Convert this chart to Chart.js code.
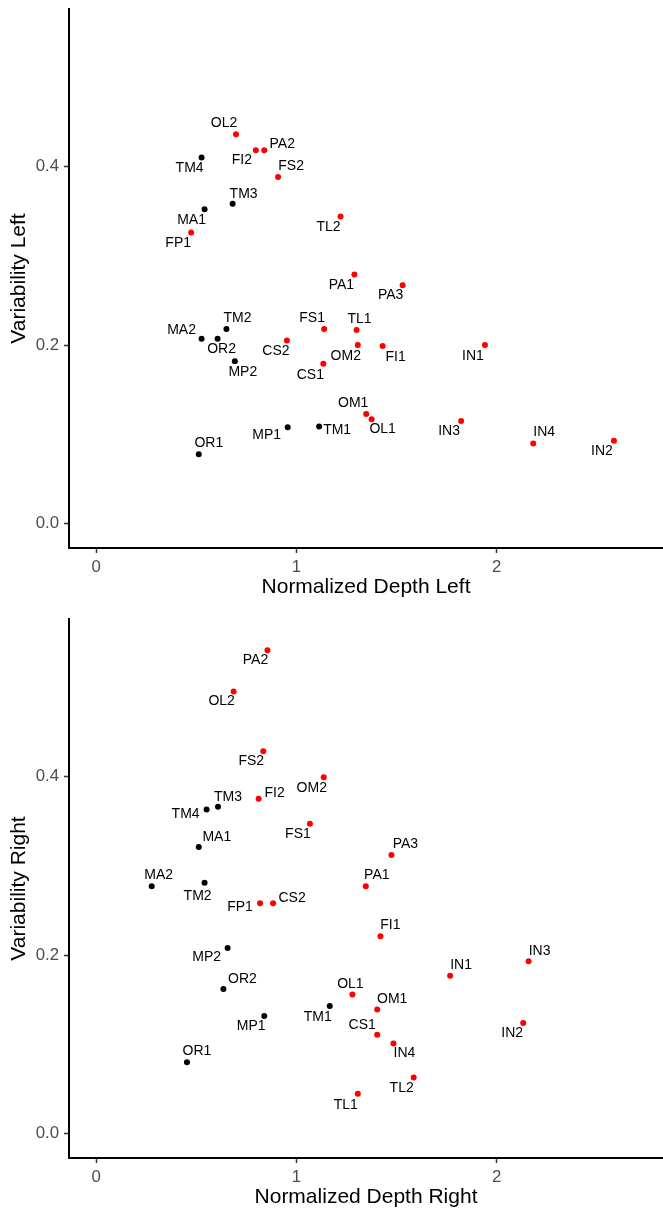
<!DOCTYPE html>
<html>
<head>
<meta charset="utf-8">
<script src="https://cdn.jsdelivr.net/npm/chart.js@4.4.1/dist/chart.umd.min.js"></script>
<style>
  body { margin: 0; background: #fff; }
  .plot { position: absolute; left: 0; width: 663px; }
</style>
</head>
<body>
<div class="plot" style="top:0;height:601px"><canvas id="leftChart" width="663" height="601"></canvas></div>
<div class="plot" style="top:610px;height:601px"><canvas id="rightChart" width="663" height="601"></canvas></div>
<script>
const sites = ["OL2", "PA2", "FI2", "TM4", "FS2", "TM3", "MA1", "TL2", "FP1", "PA1",
  "PA3", "TM2", "FS1", "TL1", "MA2", "OR2", "CS2", "OM2", "FI1", "IN1",
  "MP2", "CS1", "OM1", "OL1", "IN3", "MP1", "TM1", "OR1", "IN4", "IN2"];

const depthLeft = [0.698, 0.839, 0.797, 0.526, 0.908, 0.681, 0.541, 1.220, 0.474, 1.289,
  1.530, 0.650, 1.138, 1.300, 0.526, 0.606, 0.952, 1.306, 1.430, 1.941,
  0.692, 1.134, 1.348, 1.375, 1.822, 0.956, 1.113, 0.512, 2.182, 2.585];
const variabilityLeft = [0.436, 0.418, 0.418, 0.410, 0.388, 0.358, 0.352, 0.344, 0.326, 0.279,
  0.267, 0.218, 0.218, 0.217, 0.207, 0.207, 0.205, 0.200, 0.199, 0.200,
  0.182, 0.179, 0.123, 0.117, 0.115, 0.108, 0.109, 0.078, 0.090, 0.093];

const depthRight = [0.686, 0.855, 0.811, 0.551, 0.834, 0.608, 0.512, 1.585, 0.818, 1.346,
  1.474, 0.541, 1.067, 1.306, 0.277, 0.635, 0.883, 1.136, 1.419, 1.767,
  0.656, 1.403, 1.403, 1.279, 2.159, 0.839, 1.166, 0.453, 1.484, 2.132];
const variabilityRight = [0.495, 0.541, 0.375, 0.363, 0.428, 0.366, 0.321, 0.063, 0.258, 0.277,
  0.312, 0.281, 0.347, 0.045, 0.277, 0.162, 0.258, 0.399, 0.221, 0.177,
  0.208, 0.111, 0.139, 0.156, 0.193, 0.132, 0.143, 0.080, 0.101, 0.124];

const xTicks = [0, 1, 2];
const yTicks = [0, 0.2, 0.4];

// sites drawn in black, all others red
const blackGroups = ["TM", "MA", "OR", "MP"];

// label nudges in px (dx, dy)
const leftLabelNudge = [[-12,-11],[18,-6],[-14,10],[-12,11],[13,-11],[11,-10],[-13,11],[-12,11],[-13,11],[-13,11],
  [-12,10],[11,-11],[-12,-11],[3,-11],[-20,-9],[4,10],[-11,11],[-12,11],[13,11],[-12,11],
  [8,11],[-13,11],[-13,-11],[11,10],[-12,10],[-21,8],[18,4],[10,-11],[11,-11],[-12,10]];
const rightLabelNudge = [[-12,10],[-12,10],[16,-6],[-21,5],[-12,10],[10,-10],[18,-10],[-12,11],[-20,4],[11,-11],
  [14,-11],[-7,13],[-12,10],[-12,11],[7,-11],[19,-10],[19,-5],[-12,11],[10,-11],[11,-11],
  [-21,9],[-15,-10],[15,-10],[-2,-10],[11,-10],[-13,10],[-12,11],[10,-11],[11,10],[-11,10]];

const FONT = "'Liberation Sans', Arial, sans-serif";

const pointColors = sites.map((s) =>
  blackGroups.includes(s.slice(0, 2)) ? "#000000" : "#FF0000"
);

const siteLabels = {
  id: "siteLabels",
  afterDatasetsDraw(chart, args, opts) {
    const ctx = chart.ctx;
    const meta = chart.getDatasetMeta(0);
    ctx.save();
    ctx.font = `14px ${FONT}`;
    ctx.fillStyle = "#000";
    ctx.textAlign = "center";
    ctx.textBaseline = "middle";
    meta.data.forEach((pt, i) => {
      const [dx, dy] = opts.nudge[i];
      ctx.fillText(sites[i], pt.x + dx, pt.y + dy);
    });
    ctx.restore();
  },
};

function makeChart(canvasId, xs, ys, nudge, xTitle, yTitle) {
  return new Chart(document.getElementById(canvasId), {
    type: "scatter",
    data: {
      datasets: [
        {
          data: xs.map((x, i) => ({ x, y: ys[i] })),
          backgroundColor: pointColors,
          borderWidth: 0,
          pointRadius: 3,
        },
      ],
    },
    options: {
      responsive: false,
      animation: false,
      layout: { autoPadding: false, padding: { top: 9, right: 0, left: 0, bottom: 0 } },
      plugins: {
        legend: { display: false },
        tooltip: { enabled: false },
        siteLabels: { nudge },
      },
      scales: {
        x: {
          type: "linear",
          min: -0.136,
          max: 2.83,
          afterBuildTicks: (s) => { s.ticks = xTicks.map((v) => ({ value: v })); },
          afterFit: (s) => {
            s.height = 53;
            s.paddingLeft = 0;
            s.paddingRight = 0;
          },
          grid: { drawOnChartArea: false, drawTicks: true, tickLength: 5, tickColor: "#333", tickWidth: 1.5 },
          border: { display: true, color: "#000", width: 2 },
          ticks: {
            color: "#4D4D4D",
            font: { family: FONT, size: 16.8 },
            padding: 4,
            maxRotation: 0,
            callback: (v) => String(v),
          },
          title: {
            display: true,
            text: xTitle,
            color: "#000",
            font: { family: FONT, size: 21 },
            padding: { top: 0, bottom: 1 },
          },
        },
        y: {
          type: "linear",
          min: -0.027,
          max: 0.576,
          afterBuildTicks: (s) => { s.ticks = yTicks.map((v) => ({ value: v })); },
          afterFit: (s) => {
            s.width = 69;
            s.paddingTop = 0;
            s.paddingBottom = 0;
          },
          grid: { drawOnChartArea: false, drawTicks: true, tickLength: 5, tickColor: "#333", tickWidth: 1.5 },
          border: { display: true, color: "#000", width: 2 },
          ticks: {
            color: "#4D4D4D",
            font: { family: FONT, size: 16.8 },
            padding: 5,
            callback: (v) => v.toFixed(1),
          },
          title: {
            display: true,
            text: yTitle,
            color: "#000",
            font: { family: FONT, size: 21 },
            padding: { top: 7, bottom: 0 },
          },
        },
      },
    },
    plugins: [siteLabels],
  });
}

makeChart("leftChart", depthLeft, variabilityLeft, leftLabelNudge,
  "Normalized Depth Left", "Variability Left");
makeChart("rightChart", depthRight, variabilityRight, rightLabelNudge,
  "Normalized Depth Right", "Variability Right");
</script>
</body>
</html>
